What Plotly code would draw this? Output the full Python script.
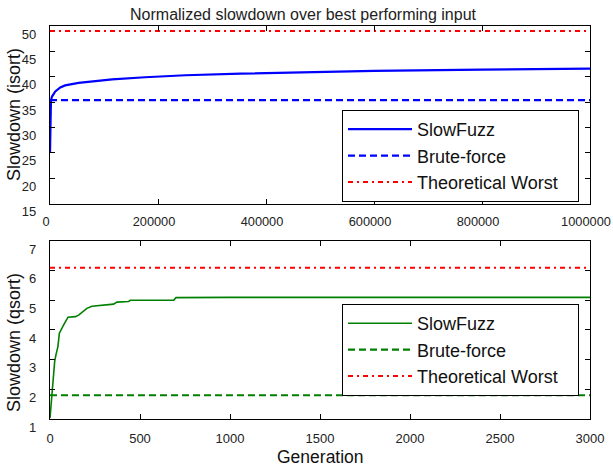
import plotly.graph_objects as go

# ---- data ----
isort_gen = [0, 300, 1000, 1800, 3700, 9800, 19000, 28000, 53000, 84000, 115000,
             176000, 251000, 353000, 450000, 600000, 800000, 1000000]
isort_slowfuzz = [25, 31, 34.2, 35.4, 36.1, 37.1, 37.9, 38.3, 38.8, 39.2, 39.5,
                  39.9, 40.3, 40.6, 40.85, 41.15, 41.4, 41.6]
isort_xrange = [0, 1000000]
isort_brute = [35.4, 35.4]
isort_worst = [49, 49]

qsort_gen = [0, 11, 26, 33, 44, 52, 63, 76, 100, 141, 159, 181, 205, 233, 270,
             326, 353, 372, 437, 446, 687, 700, 1000, 3000]
qsort_slowfuzz = [1.03, 1.93, 2.94, 3.16, 3.44, 3.89, 4.0, 4.17, 4.43, 4.45, 4.5,
                  4.62, 4.73, 4.80, 4.82, 4.85, 4.87, 4.94, 4.96, 5.0, 5.0, 5.09,
                  5.1, 5.1]
qsort_xrange = [0, 3000]
qsort_brute = [1.8, 1.8]
qsort_worst = [6.1, 6.1]

top_xticks = [0, 200000, 400000, 600000, 800000, 1000000]
top_xlabels = ["0", "200000", "400000", "600000", "800000", "1000000"]
top_yticks = [15, 20, 25, 30, 35, 40, 45, 50]
bot_xticks = [0, 500, 1000, 1500, 2000, 2500, 3000]
bot_yticks = [1, 2, 3, 4, 5, 6, 7]

PAD = "&nbsp;&nbsp;&nbsp;"
names = ["SlowFuzz", "Brute-force", "Theoretical Worst" + PAD]

BLUE = "rgb(0,0,255)"
GREEN = "rgb(0,128,0)"
RED = "rgb(255,0,0)"
FONT = "Liberation Sans, Arial, Helvetica, sans-serif"

fig = go.Figure()

# top panel
fig.add_trace(go.Scatter(x=isort_gen, y=isort_slowfuzz, mode="lines", name=names[0],
                         line=dict(color=BLUE, width=2.2), xaxis="x", yaxis="y", legend="legend"))
fig.add_trace(go.Scatter(x=isort_xrange, y=isort_brute, mode="lines", name=names[1],
                         line=dict(color=BLUE, width=2.2, dash="7px,4px"), xaxis="x", yaxis="y", legend="legend"))
fig.add_trace(go.Scatter(x=isort_xrange, y=isort_worst, mode="lines", name=names[2],
                         line=dict(color=RED, width=2, dash="5px,4px,2px,4px"), xaxis="x", yaxis="y", legend="legend"))

# bottom panel
fig.add_trace(go.Scatter(x=qsort_gen, y=qsort_slowfuzz, mode="lines", name=names[0],
                         line=dict(color=GREEN, width=1.6), xaxis="x2", yaxis="y2", legend="legend2"))
fig.add_trace(go.Scatter(x=qsort_xrange, y=qsort_brute, mode="lines", name=names[1],
                         line=dict(color=GREEN, width=2.2, dash="7px,4px"), xaxis="x2", yaxis="y2", legend="legend2"))
fig.add_trace(go.Scatter(x=qsort_xrange, y=qsort_worst, mode="lines", name=names[2],
                         line=dict(color=RED, width=2, dash="5px,4px,2px,4px"), xaxis="x2", yaxis="y2", legend="legend2"))

axis_common = dict(showline=True, linecolor="black", linewidth=1.2, mirror="ticks",
                   ticks="inside", ticklen=5, tickwidth=1, tickcolor="black",
                   showgrid=False, zeroline=False, ticklabeloverflow="allow",
                   tickfont=dict(family=FONT, size=13, color="#222"))

top_dom = [0.548, 1.0]
bot_dom = [0.0, 0.453]

legend_common = dict(xanchor="left", yanchor="top", bgcolor="white",
                     bordercolor="black", borderwidth=1, itemwidth=64,
                     font=dict(family=FONT, size=18, color="#111"), tracegroupgap=0)

fig.update_layout(
    width=613, height=468,
    paper_bgcolor="white", plot_bgcolor="white",
    margin=dict(l=50, r=23, t=26, b=49, autoexpand=False),
    font=dict(family=FONT, color="#222"),
    title=dict(text="Normalized slowdown over best performing input",
               x=303 / 613, xref="container", xanchor="center",
               y=1 - 14 / 468, yref="container", yanchor="middle",
               font=dict(family=FONT, size=16, color="#222")),
    xaxis=dict(axis_common, domain=[0, 1], range=[0, 1000000], tickvals=top_xticks,
               ticktext=top_xlabels, ticklabelstandoff=6, ticklabelshift=-4,
               tickfont=dict(family=FONT, size=12.8, color="#222"), anchor="y"),
    yaxis=dict(axis_common, domain=top_dom, range=[15, 50], tickvals=top_yticks,
               ticklabelshift=8, ticklabelstandoff=10, anchor="x"),
    xaxis2=dict(axis_common, domain=[0, 1], range=[0, 3000], tickvals=bot_xticks,
                ticklabelstandoff=7, anchor="y2"),
    yaxis2=dict(axis_common, domain=bot_dom, range=[1, 7], tickvals=bot_yticks,
                ticklabelshift=8, ticklabelstandoff=10, anchor="x2"),
    showlegend=True,
    legend=dict(legend_common, x=(342 - 50) / 540, y=(419 - 110) / 393),
    legend2=dict(legend_common, x=(342 - 50) / 540, y=(419 - 304) / 393),
    annotations=[
        dict(text="Slowdown (isort)", x=(14 - 50) / 540, y=(419 - 115) / 393,
             xref="paper", yref="paper", textangle=-90, showarrow=False,
             xanchor="center", yanchor="middle",
             font=dict(family=FONT, size=18, color="#111")),
        dict(text="Slowdown (qsort)", x=(14 - 50) / 540, y=(419 - 343) / 393,
             xref="paper", yref="paper", textangle=-90, showarrow=False,
             xanchor="center", yanchor="middle",
             font=dict(family=FONT, size=18, color="#111")),
        dict(text="Generation", x=0.5, y=(419 - 457) / 393,
             xref="paper", yref="paper", showarrow=False,
             xanchor="center", yanchor="middle",
             font=dict(family=FONT, size=17.5, color="#111")),
    ],
)

fig.write_html("out.html", config={"displayModeBar": False},
               post_script="document.body.style.margin='0';document.body.style.padding='0';")
